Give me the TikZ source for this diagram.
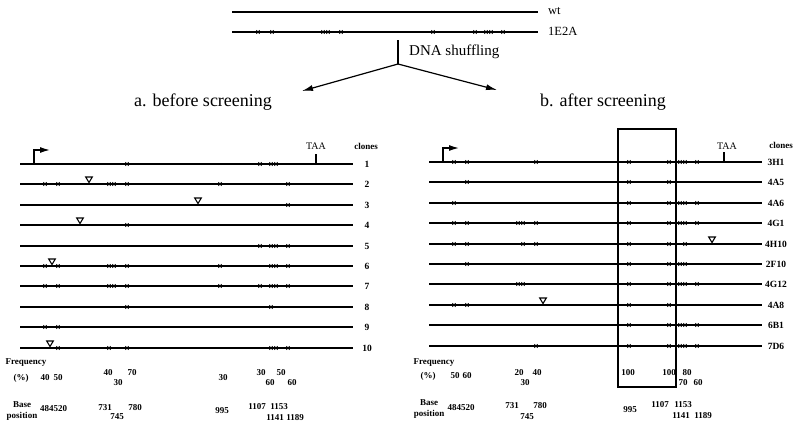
\documentclass[tikz,border=0pt]{standalone}
\usepackage{fontspec}
\setmainfont{Liberation Serif}
\usetikzlibrary{arrows.meta}
\tikzset{
  rowl/.style={line width=1.5pt},
  mk/.style={line width=0.75pt},
  tri/.style={line width=1.1pt, line join=miter},
  clab/.style={font=\bfseries\fontsize{9.5}{10}\selectfont, inner sep=0pt},
  num/.style={font=\bfseries\fontsize{9}{9}\selectfont, inner sep=0pt},
  big/.style={font=\fontsize{18}{18}\selectfont, inner sep=0pt},
  mid/.style={font=\fontsize{15}{15}\selectfont, inner sep=0pt},
  sml/.style={font=\fontsize{12.5}{13}\selectfont, inner sep=0pt},
  bigarrow/.style={line width=1.2pt, -{Latex[length=11pt,width=6pt]}},
  promo/.style={line width=1.3pt, -{Latex[length=10pt,width=6pt]}},
}
\newcommand{\xmarks}[2]{\foreach \m in {#2} {\draw[mk] (\m,#1) ++(-1.6,-1.8) -- ++(3.2,3.6) ++(0,-3.6) -- ++(-3.2,3.6);}}
\newcommand{\trimark}[2]{\draw[tri] (#2,#1-1.5) -- ++(-3.3,-5.5) -- ++(6.6,0) -- cycle;}
\newcommand{\generow}[4]{%
  \draw[rowl] (20,#1) -- (353,#1);
  \node[clab] (#2) at (367,#1) {#3};
  \xmarks{#1}{#4}}
\begin{document}
\begin{tikzpicture}[x=1pt,y=-1pt]
\useasboundingbox (0,0) rectangle (800,431);
% top sequences
\draw[rowl] (232,12) -- (538,12);
\node[sml, anchor=west] (wt) at (548,11) {wt};
\draw[rowl] (232,32) -- (538,32);
\xmarks{32}{258,272,323,328,341,433,475,486,491,503}
\node[sml, anchor=west] (e2a) at (548,31) {1E2A};
% DNA shuffling
\coordinate (shtop) at (398,40);
\coordinate (apex) at (398,64);
\coordinate (tipa) at (302,91);
\coordinate (tipb) at (497,90);
\draw[line width=1.2pt] (shtop) -- (apex);
\node[mid, anchor=west] (dna) at (409,52) {DNA shuffling};
\draw[bigarrow] (apex) -- (tipa);
\draw[bigarrow] (apex) -- (tipb);
\node[big] (ta) at (203,102) {a. before screening};
\node[big] (tb) at (603,102) {b. after screening};
% ---------- left panel ----------
\node[clab, font=\bfseries\fontsize{9}{9}\selectfont] (lclones) at (366,146) {clones};
\node[sml, font=\fontsize{10}{10}\selectfont] (ltaa) at (316,146) {TAA};
\coordinate (ltaab) at (316,164);
\draw[line width=1.2pt] (ltaab) -- (316,154);
\coordinate (lpb) at (34,164);
\coordinate (lpt) at (34,150);
\coordinate (lpe) at (50,150);
\draw[promo] (lpb) -- (lpt) -- (lpe);
\generow{164}{l1}{1}{127,260,271,276}
\generow{184}{l2}{2}{45,58,109,114,127,220,288}
\trimark{184}{89}
\generow{205}{l3}{3}{288}
\trimark{205}{198}
\generow{225}{l4}{4}{127}
\trimark{225}{80}
\generow{246}{l5}{5}{260,271,276,288}
\generow{266}{l6}{6}{45,58,109,114,127,220,271,276,288}
\trimark{266}{52}
\generow{286}{l7}{7}{45,58,109,114,127,220,260,271,276,288}
\generow{307}{l8}{8}{127,271}
\generow{327}{l9}{9}{45,58}
\generow{348}{l10}{10}{58,109,127,271,276,288}
\trimark{348}{50}
% frequency left
\node[num] (lfreq) at (26,363) {Frequency};
\node[num] (lpct) at (21,378) {(\%)};
\node[num] (lf1) at (45,378) {40};
\node[num] (lf2) at (58,378) {50};
\node[num] (lf3) at (108,373) {40};
\node[num] (lf4) at (118,383) {30};
\node[num] (lf5) at (132,373) {70};
\node[num] (lf6) at (223,378) {30};
\node[num] (lf7) at (261,373) {30};
\node[num] (lf8) at (270,383) {60};
\node[num] (lf9) at (281,373) {50};
\node[num] (lf10) at (292,383) {60};
\node[num] (lbase) at (22,405) {Base};
\node[num] (lpos) at (22,416.5) {position};
\node[num] (lb1) at (53.5,409) {484520};
\node[num] (lb2) at (105,408) {731};
\node[num] (lb3) at (117,417) {745};
\node[num] (lb4) at (135,408) {780};
\node[num] (lb5) at (222,411) {995};
\node[num] (lb6) at (257,407) {1107};
\node[num] (lb7) at (279,407) {1153};
\node[num] (lb8) at (275,418) {1141};
\node[num] (lb9) at (295,418) {1189};
% ---------- right panel ----------
\node[clab, font=\bfseries\fontsize{9}{9}\selectfont] (rclones) at (781,145) {clones};
\node[sml, font=\fontsize{10}{10}\selectfont] (rtaa) at (727,146) {TAA};
\coordinate (rtaab) at (724,162);
\draw[line width=1.2pt] (rtaab) -- (724,152);
\coordinate (rpb) at (443,162);
\coordinate (rpt) at (443,148);
\coordinate (rpe) at (459,148);
\draw[promo] (rpb) -- (rpt) -- (rpe);
\begin{scope}[xshift=409pt, yshift=2pt]
\generow{164}{r1}{3H1}{45,58,127,220,260,271,276,288}
\generow{184}{r2}{4A5}{58,220,260}
\generow{205}{r3}{4A6}{45,220,260,271,276,288}
\generow{225}{r4}{4G1}{45,58,109,114,127,220,260,271,276,288}
\generow{246}{r5}{4H10}{45,58,114,127,220,260,276}
\trimark{246}{303}
\generow{266}{r6}{2F10}{58,220,260,271,276}
\generow{286}{r7}{4G12}{109,114,220,260,271,276,288}
\generow{307}{r8}{4A8}{45,58,220,260}
\trimark{307}{134}
\generow{327}{r9}{6B1}{220,260,271,276,288}
\generow{348}{r10}{7D6}{127,220,260,271,276,288}
\end{scope}
\draw[line width=1.5pt] (618,129) rectangle (676,387);
% frequency right
\node[num] (rfreq) at (434,363) {Frequency};
\node[num] (rpct) at (428,376) {(\%)};
\node[num] (rf1) at (455,376) {50};
\node[num] (rf2) at (467,376) {60};
\node[num] (rf3) at (519,373) {20};
\node[num] (rf4) at (525,383) {30};
\node[num] (rf5) at (537,373) {40};
\node[num] (rf6) at (628,373) {100};
\node[num] (rf7) at (669,373) {100};
\node[num] (rf8) at (687,373) {80};
\node[num] (rf9) at (683,383) {70};
\node[num] (rf10) at (698,383) {60};
\node[num] (rbase) at (429,403) {Base};
\node[num] (rpos) at (429,414) {position};
\node[num] (rb1) at (461,408) {484520};
\node[num] (rb2) at (512,406) {731};
\node[num] (rb3) at (527,417) {745};
\node[num] (rb4) at (540,406) {780};
\node[num] (rb5) at (630,410) {995};
\node[num] (rb6) at (660,405) {1107};
\node[num] (rb7) at (683,405) {1153};
\node[num] (rb8) at (681,416) {1141};
\node[num] (rb9) at (703,416) {1189};
\end{tikzpicture}
\end{document}
